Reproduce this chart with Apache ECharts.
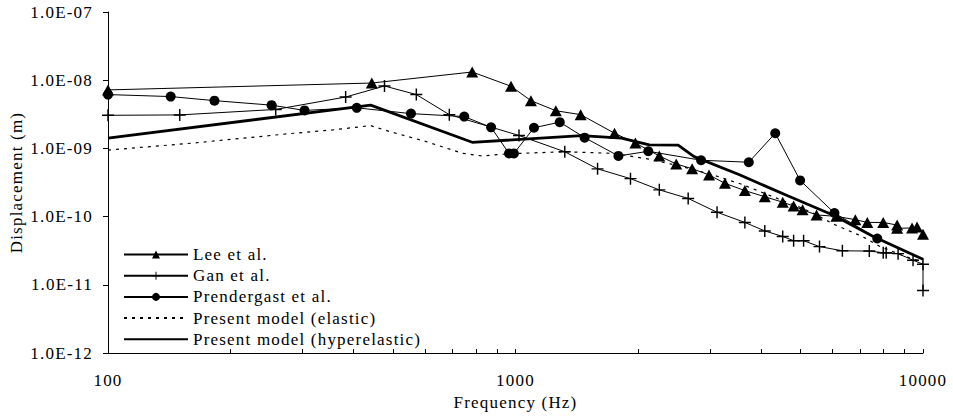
<!DOCTYPE html>
<html>
<head>
<meta charset="utf-8">
<script src="https://cdn.jsdelivr.net/npm/echarts@6/dist/echarts.min.js"></script>
<style>html,body{margin:0;padding:0;background:#fff}#c{width:953px;height:416px;letter-spacing:1.2px}</style>
</head>
<body>
<div id="c"></div>
<script>
// ---- data ----
var seriesNames = ['Lee et al.', 'Gan et al.', 'Prendergast et al.', 'Present model (elastic)', 'Present model (hyperelastic)'];

var leeFreq = [100, 444, 783, 975, 1091, 1256, 1445, 1750, 1969, 2254, 2480, 2713, 2985, 3266, 3655, 4090, 4526, 4814, 5064, 5480, 6131, 6823, 7300, 7987, 8640, 8640, 9400, 9668, 10000];
var leeDisp = [7.21e-9, 9.09e-9, 1.32e-8, 8.15e-9, 5.02e-9, 3.57e-9, 3.13e-9, 1.67e-9, 1.20e-9, 7.76e-10, 5.92e-10, 5.05e-10, 4.09e-10, 3.08e-10, 2.41e-10, 1.96e-10, 1.63e-10, 1.43e-10, 1.26e-10, 1.06e-10, 1.01e-10, 9.03e-11, 8.23e-11, 8.23e-11, 7.53e-11, 6.75e-11, 6.82e-11, 7.05e-11, 5.50e-11];

var ganFreq = [100, 150, 258, 383, 477, 571, 688, 1020, 1321, 1590, 1915, 2254, 2653, 3123, 3655, 4090, 4526, 4814, 5093, 5572, 6341, 7383, 7987, 8122, 8687, 9453, 10000, 10000];
var ganDisp = [3.06e-9, 3.10e-9, 3.73e-9, 5.67e-9, 8.23e-9, 6.16e-9, 3.13e-9, 1.55e-9, 8.94e-10, 5.02e-10, 3.61e-10, 2.47e-10, 1.85e-10, 1.16e-10, 8.23e-11, 6.18e-11, 5.12e-11, 4.44e-11, 4.44e-11, 3.64e-11, 3.16e-11, 3.13e-11, 2.96e-11, 2.96e-11, 2.87e-11, 2.30e-11, 2.01e-11, 8.26e-12];

var prenFreq = [100, 142.5, 182.5, 252, 303.6, 407.8, 554, 748.6, 871, 964, 991, 1110, 1284, 1478, 1789, 2118, 2854, 3737, 4339, 4994, 6063, 7723];
var prenDisp = [6.16e-9, 5.76e-9, 5.02e-9, 4.31e-9, 3.61e-9, 3.94e-9, 3.24e-9, 2.93e-9, 2.04e-9, 8.45e-10, 8.45e-10, 2.01e-9, 2.43e-9, 1.44e-9, 7.76e-10, 9.09e-10, 6.71e-10, 6.28e-10, 1.67e-9, 3.40e-10, 1.13e-10, 4.79e-11];

var elasFreq = [100, 162, 273.6, 356, 441, 491, 601, 740, 828, 964, 1321, 1750, 2154, 2550, 3019, 3574, 4230, 5008, 5450, 6029, 7097, 7852, 9037, 10000];
var elasDisp = [9.45e-10, 1.20e-9, 1.63e-9, 1.87e-9, 2.16e-9, 1.77e-9, 1.27e-9, 8.51e-10, 7.76e-10, 8.37e-10, 8.94e-10, 8.45e-10, 6.87e-10, 5.45e-10, 4.18e-10, 3.01e-10, 2.02e-10, 1.36e-10, 1.08e-10, 7.78e-11, 5.12e-11, 3.64e-11, 2.62e-11, 2.15e-11];

var hypFreq = [100, 441, 783, 1453, 1820, 2130, 2507, 2743, 3533, 4655, 6029, 7550, 10000];
var hypDisp = [1.42e-9, 4.31e-9, 1.23e-9, 1.54e-9, 1.42e-9, 1.13e-9, 1.12e-9, 7.58e-10, 4.14e-10, 2.02e-10, 1.05e-10, 5.12e-11, 2.37e-11];

var xLabelValues = [100, 1000, 10000];
var xTickValues = [100, 200, 300, 400, 500, 600, 700, 800, 900, 1000, 2000, 3000, 4000, 5000, 6000, 7000, 8000, 9000, 10000];
var yTickValues = [1e-12, 1e-11, 1e-10, 1e-9, 1e-8, 1e-7];

function pairs(xs, ys) { return xs.map(function (x, i) { return [x, ys[i]]; }); }

var FONT = 'Liberation Serif';
var FS = 17;
var PLUS = 'path://M4.4,0H5.6V4.4H10V5.6H5.6V10H4.4V5.6H0V4.4H4.4Z';

var chart = echarts.init(document.getElementById('c'), null, { renderer: 'svg' });
chart.setOption({
  animation: false,
  backgroundColor: '#fff',
  textStyle: { fontFamily: FONT, color: '#000' },
  grid: { left: 104, right: 30, top: 12, bottom: 55, containLabel: false },
  legend: {
    orient: 'vertical',
    left: 123,
    top: 246,
    padding: 0,
    itemWidth: 64,
    itemHeight: 10,
    itemGap: 4.2,
    textStyle: { fontFamily: FONT, fontSize: FS, color: '#000' },
    data: [
      { name: seriesNames[0] },
      { name: seriesNames[1] },
      { name: seriesNames[2] },
      { name: seriesNames[3], itemStyle: { opacity: 0 } },
      { name: seriesNames[4], itemStyle: { opacity: 0 } }
    ]
  },
  xAxis: {
    type: 'log',
    logBase: 10,
    min: 100,
    max: 10000,
    name: 'Frequency (Hz)',
    nameLocation: 'middle',
    nameGap: 35,
    nameTextStyle: { fontFamily: FONT, fontSize: FS, color: '#000' },
    axisLine: { lineStyle: { color: '#000', width: 1 } },
    axisTick: { show: true, inside: true, length: 4, lineStyle: { color: '#000' }, customValues: xTickValues },
    axisLabel: { margin: 19, fontFamily: FONT, fontSize: FS, color: '#000', customValues: xLabelValues,
      formatter: function (v) { return String(Math.round(v)); } },
    splitLine: { show: false },
    minorTick: { show: false }
  },
  yAxis: {
    type: 'log',
    logBase: 10,
    min: 1e-12,
    max: 1e-7,
    name: 'Displacement (m)',
    nameLocation: 'middle',
    nameGap: 83,
    nameRotate: 90,
    nameTextStyle: { fontFamily: FONT, fontSize: FS, color: '#000' },
    axisLine: { show: true, lineStyle: { color: '#000', width: 1 } },
    axisTick: { show: true, inside: false, length: 5, lineStyle: { color: '#000' }, customValues: yTickValues },
    axisLabel: { margin: 15, fontFamily: FONT, fontSize: FS, color: '#000', customValues: yTickValues,
      formatter: function (v) {
        var e = Math.round(Math.log10(v));
        var a = Math.abs(e);
        return '1.0E' + (e < 0 ? '-' : '+') + (a < 10 ? '0' + a : a);
      } },
    splitLine: { show: false }
  },
  series: [
    {
      name: seriesNames[0], type: 'line', data: pairs(leeFreq, leeDisp),
      symbol: 'triangle', symbolSize: [12, 11], showAllSymbol: true,
      lineStyle: { color: '#000', width: 1 }, itemStyle: { color: '#000' }, z: 5
    },
    {
      name: seriesNames[1], type: 'line', data: pairs(ganFreq, ganDisp),
      symbol: PLUS, symbolSize: 12, showAllSymbol: true,
      lineStyle: { color: '#000', width: 1 }, itemStyle: { color: '#000' }, z: 4
    },
    {
      name: seriesNames[2], type: 'line', data: pairs(prenFreq, prenDisp),
      symbol: 'circle', symbolSize: 10, showAllSymbol: true,
      lineStyle: { color: '#000', width: 1 }, itemStyle: { color: '#000' }, z: 4
    },
    {
      name: seriesNames[3], type: 'line', data: pairs(elasFreq, elasDisp),
      symbol: 'none',
      lineStyle: { color: '#000', width: 1.2, type: [3, 5] }, itemStyle: { color: '#000' }, z: 3
    },
    {
      name: seriesNames[4], type: 'line', data: pairs(hypFreq, hypDisp),
      symbol: 'none',
      lineStyle: { color: '#000', width: 2.8 }, itemStyle: { color: '#000' }, z: 3
    }
  ]
});
</script>
</body>
</html>
